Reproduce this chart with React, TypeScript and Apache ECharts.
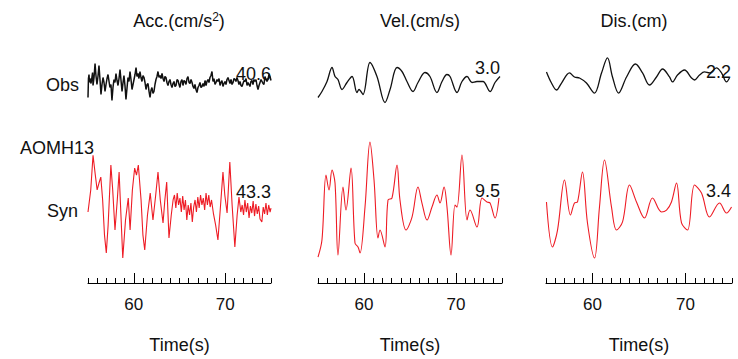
import React, { useEffect, useRef } from "react";
import * as echarts from "echarts";

// ---- data (time in s, values in physical units) ----
const timeTickLabels = [60, 70];
const componentTitles = ["Acc.(cm/s", "Vel.(cm/s)", "Dis.(cm)"];
const rowLabels = ["Obs", "Syn"];
const stationName = "AOMH13";
const obsPeaks = ["40.6", "3.0", "2.2"];
const synPeaks = ["43.3", "9.5", "3.4"];

const obsAcc: [number, number][] = [
  [55.0, -30], [55.05, 8], [55.11, 16], [55.16, 0], [55.22, 8], [55.33, -2], [55.44, 12], [55.5, 20],
  [55.55, -6], [55.66, 10], [55.77, 38], [55.87, 14], [55.98, -4], [56.09, 12], [56.2, 34], [56.31, 6],
  [56.42, -24], [56.53, -4], [56.64, 10], [56.75, 0], [56.86, -18], [56.97, -4], [57.08, 8], [57.19, 16],
  [57.3, 2], [57.4, -10], [57.51, -4], [57.62, -36], [57.73, -10], [57.84, 6], [57.95, 0], [58.06, 18],
  [58.17, 4], [58.28, -6], [58.39, 8], [58.5, 26], [58.61, 4], [58.72, -18], [58.83, 0], [58.93, 14],
  [59.04, -6], [59.15, -34], [59.26, -12], [59.37, 10], [59.48, 2], [59.59, 22], [59.7, 6], [59.81, -14],
  [59.92, -4], [60.03, 6], [60.14, 16], [60.25, 30], [60.35, 12], [60.46, 18], [60.57, 8], [60.68, 22],
  [60.79, 10], [60.9, 2], [61.01, 14], [61.12, 10], [61.23, 0], [61.34, -14], [61.45, -4], [61.56, -2],
  [61.67, -18], [61.78, -30], [61.88, -16], [61.99, -10], [62.1, -22], [62.21, -18], [62.32, -4], [62.43, 6],
  [62.54, 12], [62.65, 22], [62.76, 10], [62.87, 14], [62.98, 8], [63.09, 18], [63.2, 8], [63.31, 2],
  [63.41, 12], [63.52, 10], [63.63, 0], [63.74, -6], [63.85, 2], [63.96, 6], [64.07, -4], [64.18, -10],
  [64.29, -2], [64.4, 2], [64.51, -8], [64.62, -6], [64.73, 6], [64.84, 4], [64.95, -4], [65.05, -10],
  [65.16, 2], [65.27, 6], [65.38, -6], [65.49, 4], [65.6, 2], [65.71, -4], [65.82, 8], [65.93, 12],
  [66.04, 0], [66.15, -2], [66.26, 6], [66.37, 0], [66.48, -8], [66.58, -12], [66.69, -4], [66.8, -14],
  [66.91, -20], [67.02, -10], [67.13, -6], [67.24, 0], [67.35, -10], [67.46, -8], [67.57, -2], [67.68, -8],
  [67.79, 4], [67.9, -6], [68.0, 2], [68.11, 6], [68.22, 0], [68.33, 10], [68.44, 14], [68.55, 22],
  [68.66, 2], [68.77, 8], [68.88, -4], [68.99, 0], [69.1, 6], [69.21, 2], [69.32, 8], [69.43, -6],
  [69.53, 0], [69.64, 4], [69.75, -8], [69.86, -2], [69.97, 2], [70.08, -4], [70.19, 6], [70.3, 10],
  [70.41, 4], [70.52, -2], [70.63, 6], [70.74, -4], [70.85, 0], [70.96, 8], [71.07, 6], [71.17, 2],
  [71.28, 10], [71.39, 4], [71.5, -4], [71.61, 2], [71.72, -6], [71.83, -8], [71.94, -2], [72.05, 4],
  [72.16, 2], [72.27, 8], [72.38, -6], [72.49, 0], [72.59, -4], [72.7, -8], [72.81, 2], [72.92, 4],
  [73.03, -4], [73.14, 6], [73.25, 2], [73.36, 6], [73.47, -6], [73.58, -14], [73.69, -6], [73.8, 0],
  [73.91, 6], [74.02, 2], [74.13, -2], [74.23, -4], [74.34, 12], [74.45, 6], [74.56, 2], [74.67, 6],
  [74.78, 16], [74.89, 12], [75.0, 4],
];

const synAcc: [number, number][] = [
  [55.0, -3.3], [55.3, 14.8], [55.55, 43.3], [55.8, 27], [56.0, 14.8], [56.2, 20.5], [56.4, 25.4], [56.6, 6.6],
  [56.8, -22], [57.0, -36.9], [57.2, -14], [57.5, 35.3], [57.7, 14.8], [57.95, -18], [58.2, 6.6], [58.4, 29.5],
  [58.6, -5.7], [58.8, -41], [59.1, -9.8], [59.4, 8.2], [59.6, -18], [59.85, 14.8], [60.1, 32.8], [60.3, 27],
  [60.5, 35.3], [60.8, 6.6], [61.0, -22], [61.2, -34.4], [61.5, -5.7], [61.8, 12.3], [62.1, -9.8], [62.4, 10.7],
  [62.65, 29.5], [62.9, 6.6], [63.2, -12.3], [63.4, 6.6], [63.6, 21.3], [63.85, -24.6], [64.1, -5.7], [64.3, 6.6],
  [64.45, 10.7], [64.6, 0], [64.75, 12.3], [64.9, 2.5], [65.05, 8.2], [65.2, -3.3], [65.35, 9.8], [65.5, -1.6],
  [65.65, 6.6], [65.8, -9.8], [65.95, 2.5], [66.1, -5.7], [66.25, 4.1], [66.4, -11.5], [66.55, 0.8], [66.7, 6.6],
  [66.85, -3.3], [67.0, 9], [67.15, 0], [67.3, 10.7], [67.45, 2.5], [67.6, 8.2], [67.75, -1.6], [67.9, 12.3],
  [68.05, 2.5], [68.2, 10.7], [68.35, 0.8], [68.5, 6.6], [68.7, -4.1], [68.95, -14], [69.2, -26.2], [69.45, -1.6],
  [69.75, 29.5], [69.95, 10.7], [70.2, -4.1], [70.5, 37.7], [70.75, 2.5], [71.05, -32], [71.3, -5.7], [71.5, 9],
  [71.7, -3.3], [71.85, 2.5], [72.0, -5.7], [72.15, 6.6], [72.3, -3.3], [72.45, 4.1], [72.6, -8.2], [72.75, 1.6],
  [72.9, -4.1], [73.05, 5.7], [73.2, -6.6], [73.35, 3.3], [73.5, -4.9], [73.65, 1.6], [73.8, -9], [74.0, -11.5],
  [74.15, 0.8], [74.3, -4.9], [74.45, 4.1], [74.6, -5.7], [74.75, 2.5], [74.9, -3.3], [75.0, 0],
];

const obsVel: [number, number][] = [
  [55.0, -2.25], [55.43, -1.35], [55.98, 0.15], [56.52, 2.25], [56.85, 0.9], [57.17, 0.45], [57.61, -1.05],
  [58.15, 0], [58.7, 0.9], [59.24, -1.5], [59.46, -1.05], [59.89, -1.8], [60.65, 3.0], [61.41, 0.9],
  [62.28, -3.0], [62.83, -1.05], [63.59, 2.25], [64.13, 1.65], [64.67, 0.15], [65.33, -1.35], [65.87, 0],
  [66.63, 1.5], [67.17, 0.9], [67.93, -1.5], [68.48, 0.15], [69.02, 1.2], [69.35, 0.9], [70.11, -1.5],
  [70.65, 0.15], [71.2, 0.9], [71.74, 0], [72.28, 0.15], [72.93, 0.15], [73.7, -1.35], [74.24, 0], [74.78, 0.9],
];

const synVel: [number, number][] = [
  [55.0, -9.35], [55.43, -6.56], [55.87, 4.1], [56.2, 1.64], [56.52, 4.92], [56.85, 2.79], [57.17, -9.02],
  [57.72, 2.13], [58.04, -1.64], [58.59, 5.25], [59.02, -7.05], [59.35, -7.71], [59.57, -8.69], [60.11, -1.15],
  [60.65, 9.5], [61.09, 3.28], [61.52, -6.23], [61.74, -4.92], [62.28, -7.71], [62.61, 0], [63.04, 0.33],
  [63.59, 5.74], [63.91, 0], [64.57, -4.92], [65.22, -2.79], [65.87, 2.13], [66.3, -0.49], [66.85, -3.28],
  [67.39, -1.15], [67.93, 0.82], [68.26, -0.49], [68.7, 2.13], [69.02, -1.15], [69.46, -9.02], [69.89, -0.82],
  [70.11, -1.15], [70.65, 7.38], [71.2, -3.28], [71.52, -1.64], [72.28, -4.43], [72.83, 0.33], [73.37, -0.33],
  [73.7, -0.49], [74.24, -2.95], [74.67, 0.33],
];

const obsDis: [number, number][] = [
  [55.05, 0.43], [55.59, -0.92], [56.13, -1.77], [56.67, -0.92], [57.53, 0.31], [58.06, -0.18], [58.6, -0.31],
  [59.35, -0.92], [60.21, -2.14], [60.97, 0.31], [61.61, 2.14], [62.15, -0.18], [62.8, -2.14], [63.66, -0.18],
  [64.62, 1.4], [65.38, 0.31], [66.13, -1.16], [66.88, -0.18], [67.53, 0.79], [68.28, -0.18], [68.6, -0.79],
  [69.14, 0.06], [69.89, 0.67], [70.65, -0.31], [70.97, -0.55], [71.51, 0.06], [72.04, 0.43], [72.58, 0.31],
  [73.33, 0.92], [73.87, 0.31], [74.41, -0.79], [74.73, -0.31],
];

const synDis: [number, number][] = [
  [55.05, 0.41], [55.7, -2.65], [56.24, -1.5], [56.99, 1.9], [57.63, -0.48], [58.06, 0.34], [58.39, 0.41],
  [58.92, 2.45], [59.46, -1.02], [60.22, -3.4], [60.75, 0.07], [61.29, 3.26], [62.04, 0.07], [62.58, -1.5],
  [63.23, -0.95], [63.98, 1.56], [64.73, 0.41], [65.59, -0.68], [66.45, 0.68], [67.42, -0.27], [67.96, -0.14],
  [68.49, 0.41], [69.03, 1.7], [69.57, -1.02], [70.22, -1.5], [70.97, 1.56], [71.72, 1.02], [72.58, -0.61],
  [73.66, 0.34], [74.41, -0.34], [74.95, 0.07],
];

// ---- layout ----
const FONT = '"Liberation Sans", Arial, sans-serif';
const OBS_COLOR = "#111111";
const SYN_COLOR = "#ee1c25";
const cols = [
  { left: 88, width: 183, title: 179, obsRange: [-55, 55], synRange: [-61.5, 59.9], smooth: false, obsW: 1.5 },
  { left: 318, width: 184, title: 420, obsRange: [-4.125, 4.125], synRange: [-13.6, 10.66], smooth: true, obsW: 1.3 },
  { left: 546, width: 186, title: 634, obsRange: [-4.21, 2.5], synRange: [-5.1, 4.96], smooth: true, obsW: 1.3 },
];
const OBS_TOP = 55, OBS_H = 55;
const SYN_TOP = 135, SYN_H = 148;

export default function App() {
  const ref = useRef<HTMLDivElement>(null);
  useEffect(() => {
    if (!ref.current) return;
    const chart = echarts.init(ref.current, null, { renderer: "svg" });
    const obsData = [obsAcc, obsVel, obsDis];
    const synData = [synAcc, synVel, synDis];

    const grid: any[] = [];
    const xAxis: any[] = [];
    const yAxis: any[] = [];
    const series: any[] = [];
    const hiddenX = (gi: number) => ({
      type: "value", gridIndex: gi, min: 55, max: 75, show: false,
    });
    cols.forEach((c, i) => {
      const gObs = grid.length;
      grid.push({ left: c.left, width: c.width, top: OBS_TOP, height: OBS_H });
      const gSyn = grid.length;
      grid.push({ left: c.left, width: c.width, top: SYN_TOP, height: SYN_H });

      const xObs = xAxis.length;
      xAxis.push(hiddenX(gObs));
      const xSyn = xAxis.length;
      xAxis.push({
        type: "value", gridIndex: gSyn, min: 55, max: 75, interval: 1, position: "bottom",
        axisLine: { show: true, onZero: false, lineStyle: { color: "#000", width: 1 } },
        axisTick: { show: true, inside: true, length: 5, lineStyle: { color: "#000", width: 1 } },
        axisLabel: {
          show: true, margin: 13, color: "#111", fontSize: 17, fontFamily: FONT,
          formatter: (v: number) => (timeTickLabels.includes(v) ? String(v) : ""),
        },
        splitLine: { show: false },
        name: "Time(s)", nameLocation: "middle", nameGap: 53,
        nameTextStyle: { color: "#111", fontSize: 18, fontFamily: FONT },
      });
      xAxis.push({
        type: "value", gridIndex: gSyn, min: 55, max: 75, position: "bottom",
        axisLine: { show: false, onZero: false },
        axisTick: { show: true, inside: true, length: 10, customValues: timeTickLabels, lineStyle: { color: "#000", width: 1 } },
        axisLabel: { show: false },
        splitLine: { show: false },
      });

      const yObs = yAxis.length;
      yAxis.push({ type: "value", gridIndex: gObs, min: c.obsRange[0], max: c.obsRange[1], show: false });
      const ySyn = yAxis.length;
      yAxis.push({ type: "value", gridIndex: gSyn, min: c.synRange[0], max: c.synRange[1], show: false });

      series.push({
        type: "line", xAxisIndex: xObs, yAxisIndex: yObs, data: obsData[i], showSymbol: false,
        smooth: c.smooth ? 0.35 : false, lineStyle: { color: OBS_COLOR, width: c.obsW }, silent: true,
      });
      series.push({
        type: "line", xAxisIndex: xSyn, yAxisIndex: ySyn, data: synData[i], showSymbol: false,
        smooth: c.smooth ? 0.35 : false, lineStyle: { color: SYN_COLOR, width: 1.1 }, silent: true,
      });
    });

    const txt = (text: string, x: number, y: number, align: string, size = 18) => ({
      type: "text", x, y, silent: true,
      style: { text, fill: "#111", font: `${size}px ${FONT}`, align, verticalAlign: "middle" },
    });
    const peakRight = [271, 500, 731];
    const obsPeakY = [74, 68, 72];
    const synPeakY = [192, 191, 191];
    const graphic: any[] = [
      {
        type: "text", x: cols[0].title, y: 21, silent: true,
        style: {
          text: `{n|${componentTitles[0]}}{s|2}{n|)}`, align: "center", verticalAlign: "middle",
          rich: {
            n: { fontSize: 18, fontFamily: FONT, fill: "#111", color: "#111" },
            s: { fontSize: 12, fontFamily: FONT, fill: "#111", color: "#111", verticalAlign: "top", padding: [0, 0, 8, 0] },
          },
        },
      },
      txt(componentTitles[1], cols[1].title, 21, "center"),
      txt(componentTitles[2], cols[2].title, 21, "center"),
      txt(rowLabels[0], 79, 85, "right"),
      txt(stationName, 20, 148, "left"),
      txt(rowLabels[1], 78, 211, "right"),
    ];
    for (let i = 0; i < 3; i++) {
      graphic.push(txt(obsPeaks[i], peakRight[i], obsPeakY[i], "right"));
      graphic.push(txt(synPeaks[i], peakRight[i], synPeakY[i], "right"));
    }

    chart.setOption({
      animation: false,
      backgroundColor: "#fff",
      grid, xAxis, yAxis, series, graphic,
    });
    return () => chart.dispose();
  }, []);
  return (
    <div
      ref={ref}
      style={{ position: "fixed", left: 0, top: 0, width: 738, height: 359, background: "#fff" }}
    />
  );
}
